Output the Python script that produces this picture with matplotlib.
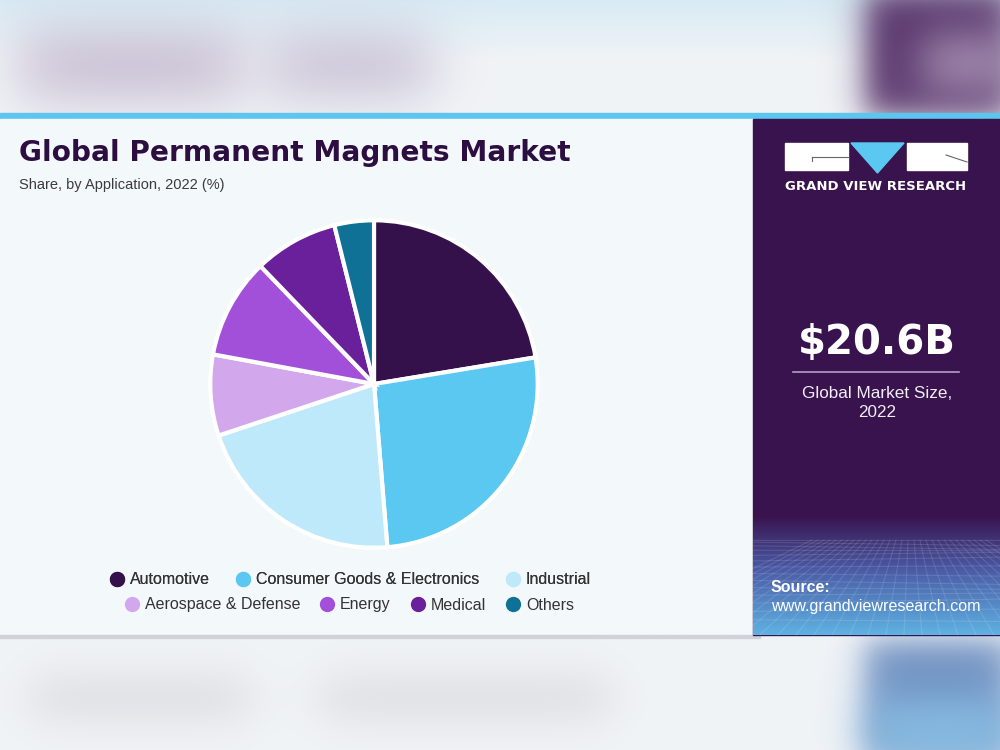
import numpy as np
import matplotlib
matplotlib.use('Agg')
import matplotlib.pyplot as plt
from matplotlib.patches import Rectangle, Polygon
from matplotlib.lines import Line2D

plt.rcParams['font.family'] = ['Liberation Sans', 'DejaVu Sans']

# data (share %)
applications = ['Automotive', 'Consumer Goods & Electronics', 'Industrial',
                'Aerospace & Defense', 'Energy', 'Medical', 'Others']
shares = [22.4, 26.3, 21.2, 8.0, 9.9, 8.3, 3.9]
colors = ['#35114b', '#5bc8f2', '#bde9fa', '#d3a7ec', '#a24fda', '#6b209b', '#0f7196']

title = 'Global Permanent Magnets Market'
subtitle = 'Share, by Application, 2022 (%)'
market_size = '$20.6B'
market_label = 'Global Market Size,\n2022'

W, H = 1000, 750
fig = plt.figure(figsize=(10, 7.5), dpi=100)

# background (blurred page around the card)
yy, xx = np.mgrid[0:H, 0:W].astype(float)

def soft(x0, x1, y0, y1, s):
    sx = 1 / (1 + np.exp(-(xx - x0) / s)) * 1 / (1 + np.exp(-(x1 - xx) / s))
    sy = 1 / (1 + np.exp(-(yy - y0) / s)) * 1 / (1 + np.exp(-(y1 - yy) / s))
    return (sx * sy)[..., None]

def rgb(h):
    return np.array(matplotlib.colors.to_rgb(h))

img = np.ones((H, W, 3)) * rgb('#f1f4f7')
top = np.clip(yy / 60, 0, 1)[..., None]
img = img * top + rgb('#d9ebf4') * (1 - top)
for (x0, x1, y0, y1, c, a, s) in [(20, 240, 35, 95, '#b3a2c0', 0.75, 18), (270, 430, 40, 90, '#b1a3c2', 0.75, 18),
                                 (30, 250, 680, 715, '#d2d3d9', 0.8, 14), (320, 610, 680, 715, '#d3d4d9', 0.8, 14),
                                 (865, 1010, -10, 115, '#553068', 1.0, 10), (920, 1010, 35, 90, '#c2b2cc', 0.8, 14),
                                 (865, 1010, 640, 760, '#6f8fc0', 1.0, 10), (870, 1010, 700, 760, '#8cc6ea', 0.9, 14)]:
    m = soft(x0, x1, y0, y1, s) * a
    img = img * (1 - m) + rgb(c) * m

bg = fig.add_axes([0, 0, 1, 1])
bg.imshow(img, extent=(0, W, H, 0), aspect='auto', zorder=0)
bg.set_xlim(0, W)
bg.set_ylim(H, 0)
bg.axis('off')

# card
bg.add_patch(Rectangle((0, 113), W, 6, color='#5cc6ef', zorder=1))
bg.add_patch(Rectangle((0, 119), 753, 516, color='#f3f8fb', zorder=1))
bg.add_patch(Rectangle((0, 635), 760, 3, color='#cfd3d8', zorder=1))
bg.add_patch(Rectangle((753, 119), 247, 516, color='#38134d', zorder=1))

# gradient + grid at the bottom of the side panel
stops = [rgb('#38134d'), rgb('#4a5aa5'), rgb('#5fb2e2')]
band = np.empty((120, 1, 3))
for i, t in enumerate(np.linspace(0, 1, 120)):
    if t < 0.45:
        u = t / 0.45
        band[i, 0] = stops[0] * (1 - u) + stops[1] * u
    else:
        u = (t - 0.45) / 0.55
        band[i, 0] = stops[1] * (1 - u) + stops[2] * u
bg.imshow(band, extent=(753, 1000, 635, 515), aspect='auto', zorder=1.5)
for k in range(14):
    yk = 540 + (k ** 1.4) * 2.2
    bg.plot([753, 1000], [yk, yk + 4 * np.sin(k)], color='white', alpha=0.12, lw=0.8, zorder=1.6)
for k in range(-8, 22):
    bg.plot([860 + k * 6, 760 + k * 18], [540, 635], color='white', alpha=0.12, lw=0.8, zorder=1.6)

# logo
bg.add_patch(Rectangle((785, 143), 63, 27, color='white', zorder=2))
bg.add_patch(Polygon([(851, 143), (904, 143), (877.5, 173)], color='#5bc8f2', zorder=2))
bg.add_patch(Rectangle((907, 143), 60, 27, color='white', zorder=2))
bg.plot([812, 848], [157, 157], color='#666666', lw=0.8, zorder=3)
bg.plot([812, 812], [157, 161], color='#666666', lw=0.8, zorder=3)
bg.plot([946, 967], [155, 162], color='#666666', lw=0.8, zorder=3)
bg.text(876, 187, 'GRAND VIEW RESEARCH', color='white', fontsize=9.5, fontweight='bold',
        ha='center', va='center', family=['DejaVu Sans'], zorder=3)

bg.text(877, 343, market_size, color='white', fontsize=29, fontweight='bold',
        ha='center', va='center', family=['DejaVu Sans'], zorder=3)
bg.plot([793, 959], [372, 372], color='#b49cc8', lw=1.2, zorder=3)
bg.text(877, 403, market_label, color='#f2edf6', fontsize=12.3, ha='center', va='center',
        linespacing=1.35, zorder=3)
bg.text(771, 587, 'Source:', color='white', fontsize=11.5, fontweight='bold', ha='left', va='center', zorder=3)
bg.text(771, 606, 'www.grandviewresearch.com', color='white', fontsize=11.6, ha='left', va='center', zorder=3)

# titles
bg.text(19, 153, title, color='#2d0e40', fontsize=20.2, fontweight='bold', ha='left', va='center',
        family=['DejaVu Sans'], zorder=3)
bg.text(19, 185, subtitle, color='#3b3b3b', fontsize=10.5, ha='left', va='center', zorder=3)

# pie
cx, cy, r = 374, 384, 167
ax = fig.add_axes([(cx - r) / W, (H - cy - r) / H, 2 * r / W, 2 * r / H])
ax.pie(shares, colors=colors, startangle=90, counterclock=False, radius=1,
       wedgeprops=dict(edgecolor='white', linewidth=3))
ax.set_xlim(-1.02, 1.02)
ax.set_ylim(-1.02, 1.02)
ax.set_aspect('equal')
ax.axis('off')

# legend in two rows
handles = [Line2D([], [], marker='o', ls='', markersize=10, markerfacecolor=c, markeredgecolor=c, label=l)
           for l, c in zip(applications, colors)]
leg1 = fig.legend(handles=handles[:3], loc='center', bbox_to_anchor=(0.350, 1 - 580 / H), ncol=3,
                  frameon=False, fontsize=11.5, handletextpad=0.3, columnspacing=1.6, handlelength=1,
                  labelcolor='#333333')
fig.legend(handles=handles[3:], loc='center', bbox_to_anchor=(0.349, 1 - 605 / H), ncol=4,
           frameon=False, fontsize=11.5, handletextpad=0.3, columnspacing=1.2, handlelength=1,
           labelcolor='#333333')
fig.add_artist(leg1)

fig.savefig('out.png', dpi=100)
